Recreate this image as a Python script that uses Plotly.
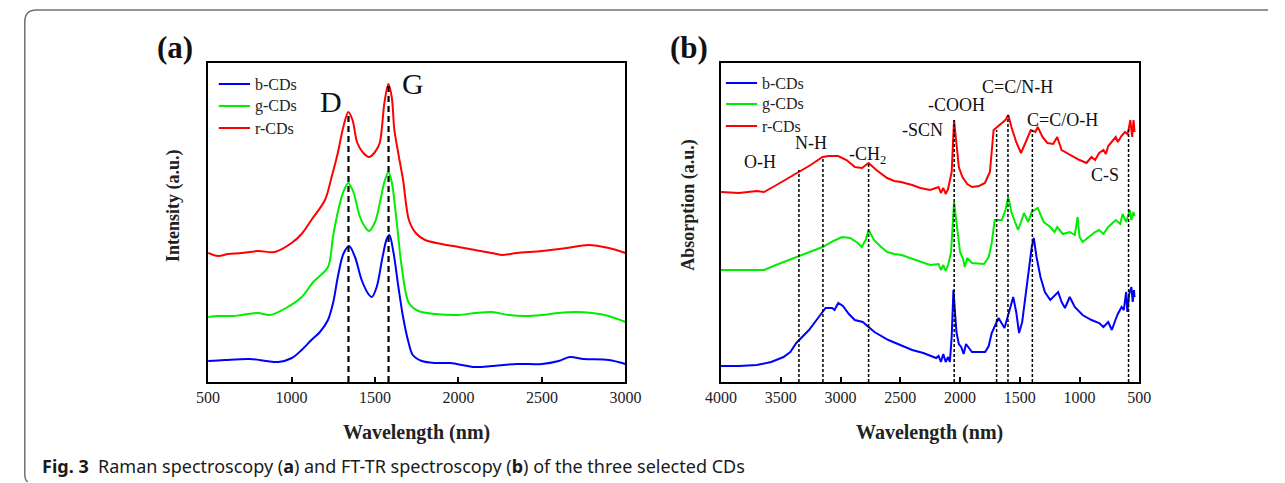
import plotly.graph_objects as go

W, H = 1285, 483

# ---------------- Panel (a): Raman ----------------
raman_x_red = [500, 560, 620, 700, 800, 900, 1000, 1060, 1119, 1200, 1240, 1277, 1310, 1340, 1365, 1394,
               1430, 1464, 1500, 1528, 1556, 1580, 1600, 1616, 1640, 1668, 1703, 1744, 1800, 1900, 2000, 2100,
               2200, 2258, 2350, 2500, 2650, 2778, 2900, 3000]
raman_red = [129, 126, 128, 129, 131, 130, 139, 148, 162, 182, 205, 229, 255, 270, 262, 239,
             229, 225, 230, 239, 279, 298, 285, 252, 228, 202, 162, 149, 142, 138, 135, 132,
             129, 127, 129, 131, 134, 137, 134, 129]

raman_x_green = [500, 560, 650, 700, 798, 870, 967, 1061, 1130, 1218, 1248, 1277, 1310, 1340, 1370, 1410, 1440,
                 1464, 1500, 1530, 1556, 1580, 1600, 1630, 1660, 1703, 1760, 1860, 2000, 2100, 2200, 2300, 2400,
                 2500, 2600, 2700, 2800, 2900, 3000]
raman_green = [65, 66, 66, 67, 69, 67, 74, 85, 100, 115, 145, 170, 190, 199, 190, 165, 155,
               151, 160, 180, 200, 210, 200, 160, 115, 79, 71, 68, 67, 69, 70, 67, 66,
               67, 69, 70, 69, 66, 60]

raman_x_blue = [500, 600, 750, 850, 920, 1002, 1060, 1119, 1170, 1218, 1250, 1277, 1310, 1345, 1380, 1420, 1460,
                1481, 1510, 1545, 1570, 1586, 1610, 1640, 1668, 1700, 1726, 1780, 1860, 1950, 2100, 2200, 2350,
                2500, 2600, 2667, 2750, 2900, 3000]
raman_blue = [21, 22, 23, 21, 20, 24, 32, 42, 50, 62, 80, 105, 128, 136, 125, 102, 88,
              85, 95, 125, 143, 147, 130, 95, 65, 40, 27, 21, 19, 19, 15, 16, 18,
              18, 21, 25, 23, 22, 18]

raman_peak_x = [1341, 1581]
raman_peak_top = [270, 298]

# ---------------- Panel (b): FT-IR ----------------
ir_x_red = [4000, 3850, 3700, 3640, 3550, 3450, 3346, 3250, 3150, 3100, 3020, 2950, 2880, 2820, 2765, 2700, 2610,
            2550, 2495, 2400, 2332, 2250, 2180, 2160, 2140, 2120, 2100, 2070, 2050, 2030, 2010, 1980, 1940, 1899,
            1840, 1792, 1750, 1719, 1680, 1653, 1620, 1596, 1570, 1530, 1490, 1450, 1408, 1370, 1350, 1310, 1269,
            1220, 1187, 1150, 1106, 1050, 1000, 942, 900, 870, 836, 800, 780, 760, 730, 697, 680, 650, 620, 600,
            590, 575, 560, 548, 540]
ir_red = [190, 189, 191, 190, 196, 203, 210, 217, 225, 226, 226, 222, 215, 214, 219, 212, 204,
          201, 200, 197, 194, 192, 195, 189, 194, 188, 193, 210, 262, 240, 215, 205, 198, 195,
          196, 199, 210, 252, 256, 259, 262, 267, 255, 240, 229, 240, 252, 250, 255, 245, 239,
          238, 245, 232, 229, 226, 222, 219, 225, 222, 229, 232, 228, 236, 240, 245, 240, 246, 250, 248,
          252, 262, 245, 262, 250]

ir_x_green = [4000, 3850, 3700, 3640, 3540, 3428, 3313, 3230, 3150, 3060, 2986, 2920, 2855, 2823, 2790, 2765, 2720,
              2660, 2610, 2550, 2487, 2420, 2332, 2250, 2180, 2160, 2140, 2120, 2100, 2075, 2050, 2030, 2000, 1975,
              1960, 1940, 1900, 1800, 1760, 1735, 1710, 1650, 1620, 1596, 1570, 1540, 1515, 1490, 1465, 1430, 1400,
              1350, 1300, 1245, 1210, 1187, 1140, 1082, 1040, 1016, 1000, 975, 920, 870, 836, 800, 760, 730, 697,
              660, 640, 610, 600, 580, 566, 550, 540]
ir_green = [112, 112, 112, 112, 117, 122, 127, 131, 135, 141, 145, 144, 139, 135, 142, 152, 142,
            135, 130, 128, 127, 124, 120, 117, 118, 112, 117, 111, 117, 130, 180, 160, 130, 123,
            115, 124, 119, 118, 125, 139, 162, 162, 172, 185, 170, 160, 152, 160, 169, 160, 170,
            174, 160, 155, 150, 155, 148, 150, 147, 165, 145, 140, 145, 150, 152, 148, 155, 158, 162,
            158, 168, 160, 165, 172, 162, 170, 166]

ir_x_blue = [4000, 3850, 3700, 3580, 3477, 3420, 3370, 3320, 3264, 3182, 3125, 3070, 3050, 3019, 2980, 2930, 2880,
             2814, 2760, 2716, 2600, 2500, 2400, 2307, 2200, 2180, 2160, 2140, 2120, 2100, 2085, 2070, 2055, 2045,
             2030, 2010, 1990, 1970, 1950, 1900, 1790, 1760, 1735, 1678, 1650, 1628, 1590, 1555, 1530, 1506, 1480,
             1440, 1400, 1383, 1360, 1327, 1290, 1245, 1200, 1179, 1150, 1122, 1082, 1040, 975, 900, 836, 800,
             760, 730, 700, 680, 648, 630, 610, 600, 585, 566, 555, 545, 540]
ir_blue = [16, 16, 17, 20, 25, 30, 39, 45, 52, 65, 74, 74, 72, 79, 76, 68, 62,
           60, 55, 50, 42, 37, 32, 29, 24, 26, 20, 28, 20, 25, 20, 45, 92, 75,
           50, 38, 35, 28, 38, 30, 30, 36, 49, 64, 58, 54, 70, 85, 70, 49, 60,
           100, 135, 144, 125, 105, 90, 82, 88, 90, 80, 74, 85, 75, 67, 62, 59, 55,
           60, 52, 62, 68, 75, 72, 90, 70, 88, 95, 80, 92, 85]

ir_peak_x = [3348, 3147, 2765, 2049, 1694, 1599, 1395, 590]
ir_peak_top = [212, 224, 219, 262, 252, 267, 252, 255]

series_names = ["b-CDs", "g-CDs", "r-CDs"]
series_colors = ["#0000ff", "#00ee00", "#ff0000"]

x_ticks_a = [500, 1000, 1500, 2000, 2500, 3000]
x_ticks_b = [4000, 3500, 3000, 2500, 2000, 1500, 1000, 500]


def px(x):
    return x / W


def py(y):
    return 1 - y / H


SERIF = "Liberation Serif"

fig = go.Figure()

# panel a traces
for xs, ys, col in [(raman_x_blue, raman_blue, series_colors[0]),
                    (raman_x_green, raman_green, series_colors[1]),
                    (raman_x_red, raman_red, series_colors[2])]:
    fig.add_trace(go.Scatter(x=xs, y=ys, mode="lines", xaxis="x", yaxis="y",
                             line=dict(color=col, width=2, shape="spline", smoothing=0.9),
                             showlegend=False, hoverinfo="skip"))
for xv, top in zip(raman_peak_x, raman_peak_top):
    fig.add_trace(go.Scatter(x=[xv, xv], y=[0, top], mode="lines", xaxis="x", yaxis="y",
                             line=dict(color="black", width=2.2, dash="6px,4px"),
                             showlegend=False, hoverinfo="skip"))

# panel b traces
for xs, ys, col in [(ir_x_blue, ir_blue, series_colors[0]),
                    (ir_x_green, ir_green, series_colors[1]),
                    (ir_x_red, ir_red, series_colors[2])]:
    fig.add_trace(go.Scatter(x=xs, y=ys, mode="lines", xaxis="x2", yaxis="y2",
                             line=dict(color=col, width=2),
                             showlegend=False, hoverinfo="skip"))
for xv, top in zip(ir_peak_x, ir_peak_top):
    fig.add_trace(go.Scatter(x=[xv, xv], y=[0, top], mode="lines", xaxis="x2", yaxis="y2",
                             line=dict(color="black", width=1.5, dash="3px,2px"),
                             showlegend=False, hoverinfo="skip"))

ydom = [py(382), py(63)]
axis_common = dict(showline=True, linecolor="black", linewidth=2, mirror=True,
                   showgrid=False, zeroline=False)
fig.update_layout(
    width=W, height=H,
    margin=dict(l=0, r=0, t=0, b=0),
    paper_bgcolor="white", plot_bgcolor="white",
    xaxis=dict(domain=[px(197), px(625)], range=[500, 3000], tickvals=x_ticks_a,
               ticks="inside", ticklen=5, tickwidth=1.5, tickcolor="black",
               tickfont=dict(family=SERIF, size=16, color="#222"), anchor="y", **axis_common),
    yaxis=dict(domain=ydom, range=[0, 319], showticklabels=False, ticks="", anchor="x", **axis_common),
    xaxis2=dict(domain=[px(723), px(1152)], range=[4000, 500], tickvals=x_ticks_b,
                ticks="inside", ticklen=5, tickwidth=1.5, tickcolor="black",
                tickfont=dict(family=SERIF, size=16, color="#222"), anchor="y2", **axis_common),
    yaxis2=dict(domain=ydom, range=[0, 319], showticklabels=False, ticks="", anchor="x2", **axis_common),
)

ann = []
# panel labels
ann.append(dict(x=px(163), y=py(47), text="<b>(a)</b>", font=dict(family=SERIF, size=31, color="#111")))
ann.append(dict(x=px(690), y=py(47), text="<b>(b)</b>", font=dict(family=SERIF, size=31, color="#111")))
# axis titles
ann.append(dict(x=px(411), y=py(432), text="<b>Wavelength (nm)</b>", font=dict(family=SERIF, size=20, color="#222")))
ann.append(dict(x=px(937), y=py(432), text="<b>Wavelength (nm)</b>", font=dict(family=SERIF, size=20, color="#222")))
ann.append(dict(x=px(162), y=py(205), text="<b>Intensity (a.u.)</b>", textangle=-90,
                font=dict(family=SERIF, size=18, color="#222")))
ann.append(dict(x=px(690), y=py(205), text="<b>Absorption (a.u.)</b>", textangle=-90,
                font=dict(family=SERIF, size=18, color="#222")))
# D / G labels
ann.append(dict(x=px(323), y=py(102), text="D", font=dict(family=SERIF, size=30, color="#111")))
ann.append(dict(x=px(407), y=py(83), text="G", font=dict(family=SERIF, size=30, color="#111")))
# IR group labels
ir_labels = [("O-H", 763, 162), ("N-H", 815, 143), ("-CH<sub>2</sub>", 873, 155), ("-SCN", 930, 130),
             ("-COOH", 965, 105), ("C=C/N-H", 1027, 87), ("C=C/O-H", 1073, 120), ("C-S", 1117, 175)]
for t, x, y in ir_labels:
    ann.append(dict(x=px(x), y=py(y), text=t, font=dict(family=SERIF, size=18, color="#111")))

# legends (drawn as line samples + labels)
shapes = []
for (lx0, lx1, ty, ys) in [(208, 240, 243, [84, 106, 128]), (728, 760, 763, [83, 104, 126])]:
    for name, col, yy in zip(series_names, series_colors, ys):
        shapes.append(dict(type="line", xref="paper", yref="paper", x0=px(lx0), x1=px(lx1),
                           y0=py(yy), y1=py(yy), line=dict(color=col, width=2)))
        ann.append(dict(x=px(ty), y=py(yy), text=name, xanchor="left",
                        font=dict(family=SERIF, size=16, color="#222")))

# caption
ann.append(dict(x=px(25), y=py(466), xanchor="left",
                text="<b>Fig. 3</b>  Raman spectroscopy (<b>a</b>) and FT-TR spectroscopy (<b>b</b>) of the three selected CDs",
                font=dict(family="Noto Sans", size=18, color="#1a1a1a")))

for a in ann:
    a.setdefault("xref", "paper")
    a.setdefault("yref", "paper")
    a.setdefault("showarrow", False)
    a.setdefault("xanchor", "center")
    a.setdefault("yanchor", "middle")
fig.update_layout(annotations=ann)

# figure frame (rounded top-left corner), kept inside the page
frame_path = (f"M {px(1284)},{py(10)} L {px(21)},{py(10)} "
              f"Q {px(9)},{py(10)} {px(9)},{py(22)} "
              f"L {px(9)},{py(474)} Q {px(9)},{py(480)} {px(12)},{py(482)}")
shapes.append(dict(type="path", xref="paper", yref="paper", path=frame_path,
                   line=dict(color="#707070", width=1.5)))
fig.update_layout(shapes=shapes)

fig.write_html("out.html",
               config={"displayModeBar": False},
               post_script="document.body.style.margin='0';document.body.style.overflow='hidden';")
